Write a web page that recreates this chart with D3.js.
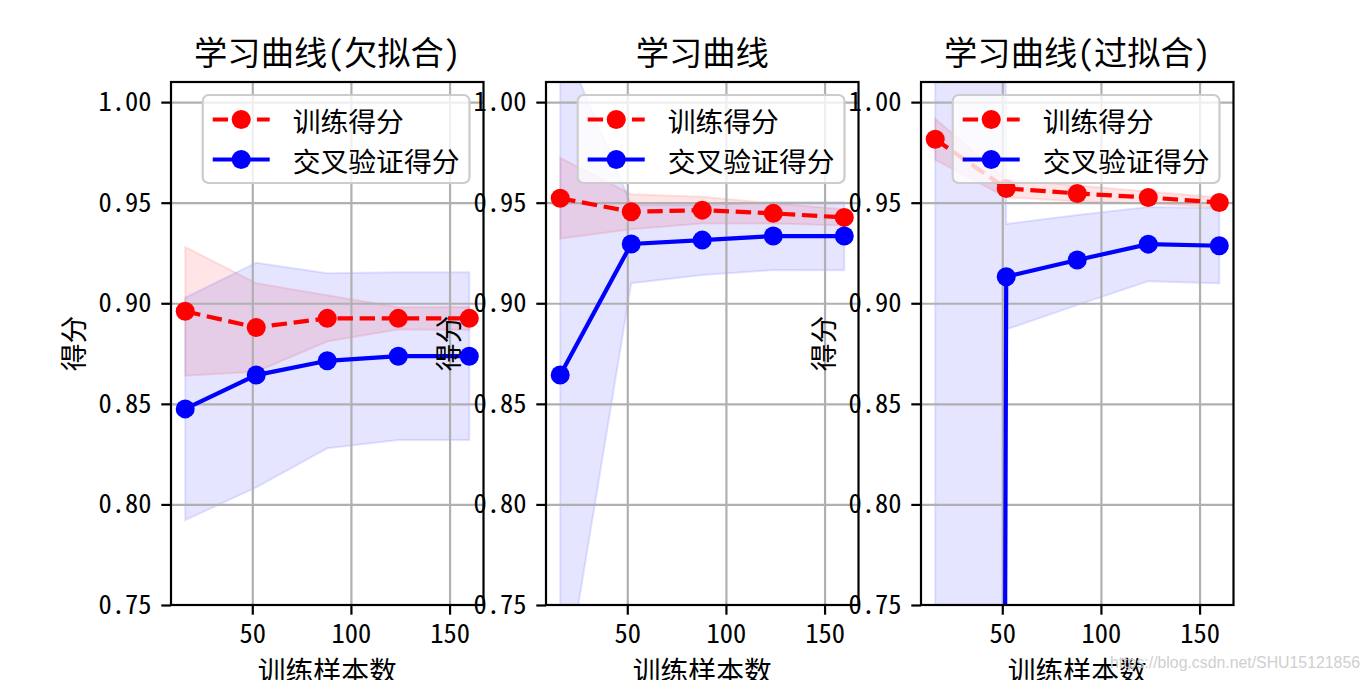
<!DOCTYPE html>
<html>
<head>
<meta charset="utf-8">
<script src="https://cdn.jsdelivr.net/npm/d3@7"></script>
<style>
body { margin: 0; background: #ffffff; }
svg text { font-family: "Noto Sans CJK SC", sans-serif; font-feature-settings: "hwid" 1; }
</style>
</head>
<body>
<svg id="chart" width="1370" height="680"></svg>
<script>
//train sizes + scores
let trainSizes = [16, 52, 88, 124, 160];

let titles = ['学习曲线(欠拟合)', '学习曲线', '学习曲线(过拟合)'];

let trainMean1 = [0.896, 0.888, 0.8925, 0.8925, 0.8925];
let trainStd1 = [0.032, 0.022, 0.0115, 0.0055, 0.0057];
let testMean1 = [0.8475, 0.8643, 0.8714, 0.8737, 0.8737];
let testStd1 = [0.0553, 0.0558, 0.0435, 0.0417, 0.0417];

let trainMean2 = [0.9522, 0.9455, 0.9463, 0.9447, 0.9427];
let trainStd2 = [0.0201, 0.0087, 0.0067, 0.005, 0.004];
let testMean2 = [0.8643, 0.9295, 0.9314, 0.9334, 0.9334];
let testStd2 = [0.169, 0.0195, 0.0174, 0.0169, 0.017];

let trainMean3 = [0.9815, 0.9571, 0.9546, 0.9526, 0.9501];
let trainStd3 = [0.0102, 0.0044, 0.004, 0.003, 0.0025];
let testMean3 = [-10, 0.9132, 0.9215, 0.9294, 0.9286];
let testStd3 = [20, 0.0262, 0.0224, 0.0184, 0.0187];

let xTicks = [50, 100, 150];
let yTicks = [0.75, 0.80, 0.85, 0.90, 0.95, 1.00];
let legendLabels = ['训练得分', '交叉验证得分'];

let xLabel = '训练样本数';
let yLabel = '得分';
let watermark = 'https://blog.csdn.net/SHU15121856';

let trainColour = '#ff0000';
let testColour = '#0000ff';
let gridColour = '#b0b0b0';

let svg = d3.select('#chart');
let panelLefts = [171, 546, 921];
let marginTop = 82;
let width = 312.5;
let height = 523;
let fs = 27.8; // 10pt at 200dpi

function zipData(sizes, mean, std) {
    let out = [];
    for (let i = 0; i < sizes.length; i++) {
        out.push({size: sizes[i], mean: mean[i], std: std[i]});
    }
    return out;
}

function drawPanel(idx, title, trainMean, trainStd, testMean, testStd) {
    let chart = svg.append('g')
        .attr('transform', `translate(${panelLefts[idx]}, ${marginTop})`);

    const xScale = d3.scaleLinear()
        .domain([8.8, 167.2])
        .range([0, width]);
    const yScale = d3.scaleLinear()
        .domain([0.75, 1.01])
        .range([height, 0]);

    chart.append('clipPath')
        .attr('id', 'clip' + idx)
        .append('rect')
        .attr('width', width)
        .attr('height', height);

    let plot = chart.append('g').attr('clip-path', `url(#clip${idx})`);

    let train = zipData(trainSizes, trainMean, trainStd);
    let test = zipData(trainSizes, testMean, testStd);

    let band = d3.area()
        .x(d => xScale(d.size))
        .y0(d => yScale(d.mean - d.std))
        .y1(d => yScale(d.mean + d.std));

    //std bands
    plot.append('path')
        .attr('d', band(train))
        .attr('fill', trainColour)
        .attr('fill-opacity', 0.1)
        .attr('stroke', trainColour)
        .attr('stroke-opacity', 0.1)
        .attr('stroke-width', 2);
    plot.append('path')
        .attr('d', band(test))
        .attr('fill', testColour)
        .attr('fill-opacity', 0.1)
        .attr('stroke', testColour)
        .attr('stroke-opacity', 0.1)
        .attr('stroke-width', 2);

    //grid
    plot.append('g')
        .attr('class', 'grid')
        .attr('transform', 'translate(0, ' + height + ')')
        .call(d3.axisBottom(xScale).tickValues(xTicks).tickSize(-height).tickFormat(''));
    plot.append('g')
        .attr('class', 'grid')
        .call(d3.axisLeft(yScale).tickValues(yTicks).tickSize(-width).tickFormat(''));
    plot.selectAll('.grid .domain').remove();
    plot.selectAll('.grid line')
        .attr('stroke', gridColour)
        .attr('stroke-width', 2.2);

    //mean lines
    let line = d3.line()
        .x(d => xScale(d.size))
        .y(d => yScale(d.mean));

    plot.append('path')
        .attr('d', line(train))
        .attr('fill', 'none')
        .attr('stroke', trainColour)
        .attr('stroke-width', 4.2)
        .attr('stroke-dasharray', '15.4,6.7');
    plot.selectAll('.trainDot')
        .data(train)
        .enter()
        .append('circle')
        .attr('cx', d => xScale(d.size))
        .attr('cy', d => yScale(d.mean))
        .attr('r', 9.5)
        .attr('fill', trainColour);

    plot.append('path')
        .attr('d', line(test))
        .attr('fill', 'none')
        .attr('stroke', testColour)
        .attr('stroke-width', 4.2);
    plot.selectAll('.testDot')
        .data(test)
        .enter()
        .append('circle')
        .attr('cx', d => xScale(d.size))
        .attr('cy', d => yScale(d.mean))
        .attr('r', 9.5)
        .attr('fill', testColour);

    //axes
    chart.append('g')
        .attr('class', 'axis')
        .attr('transform', 'translate(0, ' + height + ')')
        .call(d3.axisBottom(xScale).tickValues(xTicks).tickSize(9.7).tickPadding(9.7).tickSizeOuter(0));
    chart.append('g')
        .attr('class', 'axis')
        .call(d3.axisLeft(yScale).tickValues(yTicks).tickSize(9.7).tickPadding(9.7).tickSizeOuter(0)
            .tickFormat(d3.format('.2f')));
    chart.selectAll('.axis .domain').remove();
    chart.selectAll('.axis line')
        .attr('stroke', '#000')
        .attr('stroke-width', 2.2);
    chart.selectAll('.axis text')
        .attr('font-size', 26.5)
        .attr('fill', '#000')
        .style('font-family', '"Noto Sans CJK SC", sans-serif');

    //frame
    chart.append('rect')
        .attr('width', width)
        .attr('height', height)
        .attr('fill', 'none')
        .attr('stroke', '#000')
        .attr('stroke-width', 2.2);

    //labels
    chart.append('text')
        .attr('x', width / 2)
        .attr('y', -17)
        .attr('text-anchor', 'middle')
        .attr('font-size', 33.3)
        .text(title);

    chart.append('text')
        .attr('x', width / 2)
        .attr('y', height + 76)
        .attr('text-anchor', 'middle')
        .attr('font-size', fs)
        .text(xLabel);

    chart.append('text')
        .attr('transform', `translate(-99, ${height / 2}) rotate(-90)`)
        .attr('text-anchor', 'middle')
        .attr('dominant-baseline', 'central')
        .attr('font-size', fs)
        .text(yLabel);

    drawLegend(chart);
}

function drawLegend(chart) {
    let legend = chart.append('g');
    let rows = [37.5, 77.5];

    let texts = [];
    for (let i = 0; i < legendLabels.length; i++) {
        texts.push(legend.append('text')
            .attr('y', rows[i])
            .attr('dominant-baseline', 'central')
            .attr('font-size', fs)
            .text(legendLabels[i]));
    }
    let textW = d3.max(texts, t => t.node().getComputedTextLength());
    let boxW = 89 + textW + 11;
    let left = width - 14 - boxW;

    legend.insert('rect', 'text')
        .attr('x', left)
        .attr('y', 13)
        .attr('width', boxW)
        .attr('height', 88)
        .attr('rx', 6)
        .attr('fill', '#ffffff')
        .attr('fill-opacity', 0.8)
        .attr('stroke', '#cccccc')
        .attr('stroke-width', 2.2);

    texts.forEach(t => t.attr('x', left + 90));

    let colours = [trainColour, testColour];
    for (let i = 0; i < 2; i++) {
        legend.append('line')
            .attr('x1', left + 10)
            .attr('x2', left + 67)
            .attr('y1', rows[i])
            .attr('y2', rows[i])
            .attr('stroke', colours[i])
            .attr('stroke-width', 4.2)
            .attr('stroke-dasharray', i == 0 ? '15.4,6.7' : null);
        legend.append('circle')
            .attr('cx', left + 38.5)
            .attr('cy', rows[i])
            .attr('r', 9.5)
            .attr('fill', colours[i]);
    }
}

drawPanel(0, titles[0], trainMean1, trainStd1, testMean1, testStd1);
drawPanel(1, titles[1], trainMean2, trainStd2, testMean2, testStd2);
drawPanel(2, titles[2], trainMean3, trainStd3, testMean3, testStd3);

//csdn watermark, bottom right
svg.append('text')
    .attr('x', 1110)
    .attr('y', 668)
    .attr('font-size', 16)
    .attr('textLength', 250)
    .attr('lengthAdjust', 'spacingAndGlyphs')
    .attr('fill', '#cfcfcf')
    .style('font-family', '"Liberation Sans", sans-serif')
    .text(watermark);
</script>
</body>
</html>
